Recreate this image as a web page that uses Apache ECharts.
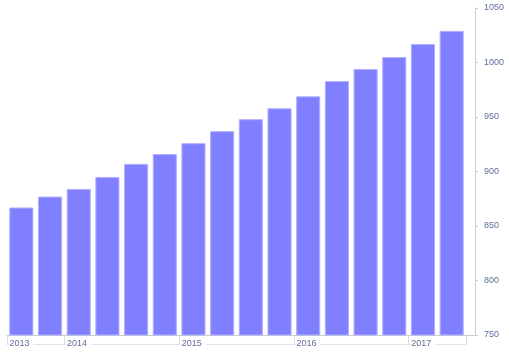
<!DOCTYPE html>
<html>

<head>
    <meta http-equiv="Content-Type" content="text/html; charset=utf-8" />
    <title>Quarterly</title>
    <script src="https://cdn.jsdelivr.net/npm/echarts@6/dist/echarts.min.js"></script>
    <style>
        html, body { margin: 0; padding: 0; background: #fff; }
        #div1 { width: 509px; height: 352px; }
    </style>
</head>

<body>
    <div id="div1"></div>
    <script type="text/javascript">
        // quarters shown, and the value of each bar
        var quarters = ['2013 Q3', '2013 Q4',
            '2014 Q1', '2014 Q2', '2014 Q3', '2014 Q4',
            '2015 Q1', '2015 Q2', '2015 Q3', '2015 Q4',
            '2016 Q1', '2016 Q2', '2016 Q3', '2016 Q4',
            '2017 Q1', '2017 Q2'];
        var values = [867, 877, 884, 895, 907, 916, 926, 937, 948, 958, 969, 983, 994, 1005, 1017, 1029];
        var yTicks = [750, 800, 850, 900, 950, 1000, 1050];

        // one label per band boundary, year written where a new year starts
        var yearLabels = [];
        for (var i = 0; i <= quarters.length; i++) {
            var y = i < quarters.length ? quarters[i].split(' ')[0] : '';
            var prev = i > 0 ? quarters[i - 1].split(' ')[0] : '';
            yearLabels.push(y !== prev ? y : '');
        }

        var textColor = '#5f6e9c';
        var font = 'Liberation Sans, Arial, sans-serif';

        var myChart = echarts.init(document.getElementById('div1'));

        var option = {
            animation: false,
            grid: [
                { left: 7, right: 34, top: 8, bottom: 17 },
                { left: 7, right: 43, top: 8, bottom: 17 }
            ],
            xAxis: [{
                // only the long base line, reaching the value axis
                gridIndex: 0,
                type: 'value',
                min: 0,
                max: 1,
                axisLine: { show: true, onZero: false, lineStyle: { color: '#cccccc' } },
                axisTick: { show: false },
                axisLabel: { show: false },
                splitLine: { show: false }
            }, {
                gridIndex: 1,
                type: 'category',
                data: quarters,
                axisLine: { show: false },
                axisTick: { show: false },
                axisLabel: { show: false }
            }, {
                // year brackets below the bars
                gridIndex: 1,
                type: 'category',
                position: 'bottom',
                offset: 9,
                boundaryGap: false,
                data: yearLabels,
                axisLine: { show: true, onZero: false, lineStyle: { color: '#e4e4e4' } },
                axisTick: {
                    show: true,
                    inside: true,
                    length: 8,
                    lineStyle: { color: '#dcdcdc' },
                    interval: function (index, value) {
                        return value !== '' || index === yearLabels.length - 1;
                    }
                },
                axisLabel: {
                    interval: 0,
                    margin: 0,
                    align: 'left',
                    verticalAlign: 'middle',
                    formatter: function (v) {
                        return v ? '{s| }{t|' + v + '}' : '';
                    },
                    rich: {
                        s: { fontSize: 9, fontFamily: font },
                        t: {
                            fontSize: 9,
                            fontFamily: font,
                            color: textColor,
                            backgroundColor: '#ffffff',
                            padding: [1, 4, 1, 0]
                        }
                    }
                }
            }],
            yAxis: [{
                gridIndex: 0,
                type: 'value',
                position: 'right',
                min: yTicks[0],
                max: yTicks[yTicks.length - 1],
                interval: 50,
                axisLine: { show: true, onZero: false, lineStyle: { color: '#cccccc' } },
                axisTick: { show: true, length: 3, lineStyle: { color: '#cccccc' } },
                axisLabel: {
                    margin: 9,
                    color: textColor,
                    fontSize: 9,
                    fontFamily: font,
                    formatter: function (v) { return String(v); }
                },
                splitLine: { show: false }
            }, {
                gridIndex: 1,
                type: 'value',
                min: yTicks[0],
                max: yTicks[yTicks.length - 1],
                show: false
            }],
            series: [{
                type: 'bar',
                xAxisIndex: 1,
                yAxisIndex: 1,
                data: values,
                barCategoryGap: '16%',
                itemStyle: {
                    color: '#8080ff',
                    borderColor: '#b0b0ff',
                    borderWidth: 1
                }
            }]
        };

        myChart.setOption(option);
    </script>
</body>

</html>
